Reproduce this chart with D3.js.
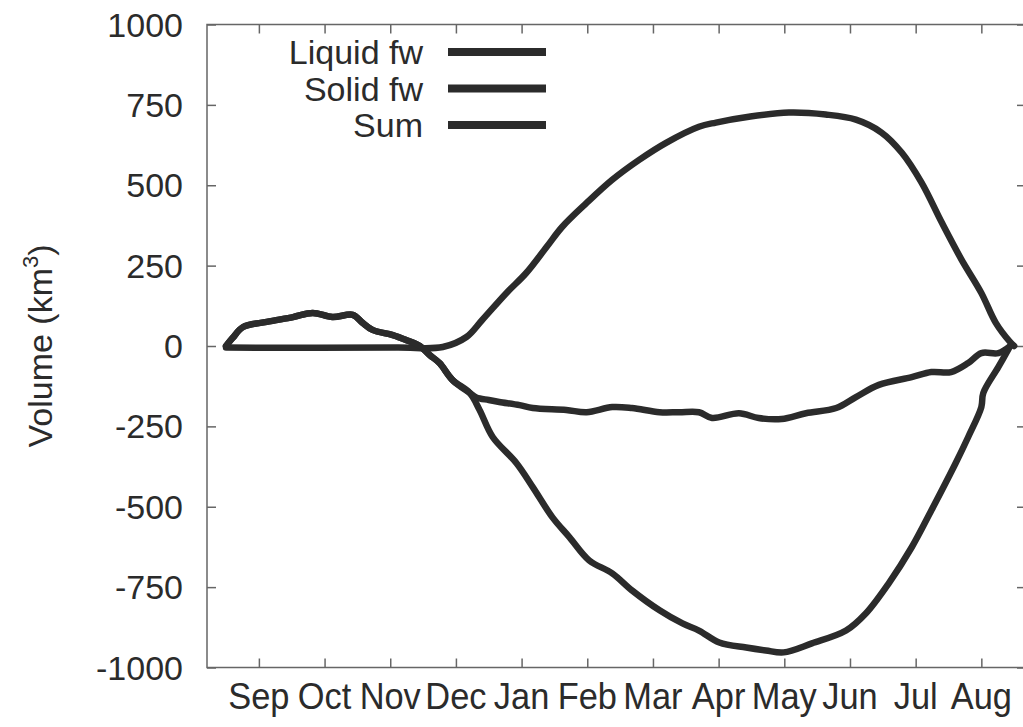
<!DOCTYPE html>
<html>
<head>
<meta charset="utf-8">
<script src="https://cdn.jsdelivr.net/npm/d3@7"></script>
<style>
  html, body { margin: 0; padding: 0; background: #fff; }
  svg { display: block; font-family: "Liberation Sans", Arial, Helvetica, sans-serif; }
</style>
</head>
<body>
<svg id="chart" width="1023" height="727"></svg>
<script>
// ---- data (x in months since 1 Sep, y in km^3) ----
const monthLabels = ["Sep","Oct","Nov","Dec","Jan","Feb","Mar","Apr","May","Jun","Jul","Aug"];
const yTicks = [1000, 750, 500, 250, 0, -250, -500, -750, -1000];
const seriesNames = ["Liquid fw", "Solid fw", "Sum"];

const liquidX = [0, 0.10, 0.26, 0.62, 1.02, 1.32, 1.62, 1.93, 2.08, 2.23, 2.54, 2.75, 2.95, 3.10, 3.25, 3.45, 3.71, 3.86, 4.06, 4.42, 4.67, 4.97, 5.23, 5.53, 5.88, 6.18, 6.60, 6.95, 7.20, 7.51, 7.92, 8.22, 8.49, 8.92, 9.44, 9.74, 10.09, 10.44, 10.74, 11.11, 11.30, 11.50, 11.53, 11.76, 11.94];
const liquidY = [0, 25, 59, 75, 90, 103, 90, 97, 72, 50, 34, 18, 0, -28, -53, -106, -146, -199, -283, -364, -439, -533, -595, -667, -707, -760, -822, -863, -885, -922, -938, -947, -953, -925, -885, -832, -738, -626, -511, -364, -283, -190, -146, -65, 0];

const solidX = [0, 2.6, 3.3, 3.66, 3.90, 4.27, 4.57, 4.88, 5.12, 5.49, 5.88, 6.29, 6.70, 7.20, 7.46, 7.96, 8.57, 9.13, 9.59, 9.98, 10.29, 10.59, 10.90, 11.20, 11.50, 11.72, 11.94, 12.0];
const solidY = [-5, -5, -3, 28, 81, 165, 227, 308, 371, 445, 517, 579, 632, 682, 695, 713, 726, 720, 704, 664, 601, 508, 383, 268, 165, 72, 12, 0];

const sumX = [0, 0.10, 0.26, 0.62, 1.02, 1.32, 1.62, 1.93, 2.08, 2.23, 2.54, 2.75, 2.95, 3.10, 3.25, 3.45, 3.71, 3.81, 4.0, 4.16, 4.47, 4.67, 5.18, 5.49, 5.88, 6.18, 6.60, 6.90, 7.20, 7.40, 7.81, 8.11, 8.46, 8.83, 9.29, 9.59, 9.94, 10.44, 10.74, 11.04, 11.30, 11.50, 11.76, 11.94];
const sumY = [0, 25, 59, 75, 90, 103, 90, 97, 72, 50, 34, 18, 0, -28, -53, -106, -146, -160, -168, -174, -184, -193, -199, -206, -190, -193, -206, -206, -206, -224, -209, -224, -227, -209, -193, -159, -121, -97, -81, -81, -53, -22, -22, 0];

// ---- layout ----
const svg = d3.select("#chart");
const plotL = 207, plotR = 1026, plotT = 24.5, plotB = 667.5;
const ink = "#2b2b2b";
const axisCol = "#666";

const x = d3.scaleLinear().domain([-0.29, 12.18]).range([plotL, plotR]);
const y = d3.scaleLinear().domain([-1000, 1000]).range([plotB, plotT]);

const tickPos = monthLabels.map((m, i) => i + 0.5);

// frame
svg.append("rect")
  .attr("x", plotL).attr("y", plotT)
  .attr("width", plotR - plotL).attr("height", plotB - plotT)
  .attr("fill", "none").attr("stroke", axisCol).attr("stroke-width", 1.5);

// bottom axis (inner ticks)
const xb = svg.append("g").attr("transform", `translate(0,${plotB})`)
  .call(d3.axisBottom(x).tickValues(tickPos).tickSize(-9).tickFormat(""));
xb.select(".domain").remove();
xb.selectAll("line").attr("stroke", axisCol).attr("stroke-width", 1.5);

// top axis (inner ticks)
const xt = svg.append("g").attr("transform", `translate(0,${plotT})`)
  .call(d3.axisTop(x).tickValues(tickPos).tickSize(-9).tickFormat(""));
xt.select(".domain").remove();
xt.selectAll("line").attr("stroke", axisCol).attr("stroke-width", 1.5);

// month labels (slightly condensed, as in the reference)
svg.append("g").selectAll("text").data(monthLabels).join("text")
  .attr("transform", (d, i) => `translate(${x(tickPos[i])},709) scale(0.93,1)`)
  .attr("text-anchor", "middle")
  .attr("font-size", 37)
  .attr("fill", ink)
  .text(d => d);

// left axis (inner ticks)
const yl = svg.append("g").attr("transform", `translate(${plotL},0)`)
  .call(d3.axisLeft(y).tickValues(yTicks).tickSize(-9).tickFormat(""));
yl.select(".domain").remove();
yl.selectAll("line").attr("stroke", axisCol).attr("stroke-width", 1.5);

// right axis (inner ticks)
const yr = svg.append("g").attr("transform", `translate(${plotR},0)`)
  .call(d3.axisRight(y).tickValues(yTicks).tickSize(-9).tickFormat(""));
yr.select(".domain").remove();
yr.selectAll("line").attr("stroke", axisCol).attr("stroke-width", 1.5);

// y tick labels
svg.append("g").selectAll("text").data(yTicks).join("text")
  .attr("x", 183)
  .attr("y", d => y(d) + 12)
  .attr("text-anchor", "end")
  .attr("font-size", 34)
  .attr("fill", ink)
  .text(d => d);

// y axis title
const title = svg.append("text")
  .attr("transform", `translate(52,346) rotate(-90)`)
  .attr("text-anchor", "middle")
  .attr("font-size", 34)
  .attr("fill", ink);
title.append("tspan").text("Volume (km");
title.append("tspan").attr("dy", -14).attr("font-size", 22).text("3");
title.append("tspan").attr("dy", 14).text(")");

// curves
const line = d3.line().x(d => x(d[0])).y(d => y(d[1])).curve(d3.curveCatmullRom.alpha(0.5));
const toPts = (xs, ys) => xs.map((v, i) => [v, ys[i]]);
const series = [toPts(liquidX, liquidY), toPts(solidX, solidY), toPts(sumX, sumY)];

svg.append("g").selectAll("path").data(series).join("path")
  .attr("d", line)
  .attr("fill", "none")
  .attr("stroke", ink)
  .attr("stroke-width", 6.5)
  .attr("stroke-linejoin", "round")
  .attr("stroke-linecap", "round");

// legend
const leg = svg.append("g");
const legY = d3.scalePoint().domain(seriesNames).range([52, 125]);
leg.selectAll("text").data(seriesNames).join("text")
  .attr("x", 423)
  .attr("y", d => legY(d) + 12)
  .attr("text-anchor", "end")
  .attr("font-size", 34)
  .attr("fill", ink)
  .text(d => d);
leg.selectAll("line").data(seriesNames).join("line")
  .attr("x1", 448).attr("x2", 546)
  .attr("y1", d => legY(d)).attr("y2", d => legY(d))
  .attr("stroke", ink).attr("stroke-width", 8);
</script>
</body>
</html>
